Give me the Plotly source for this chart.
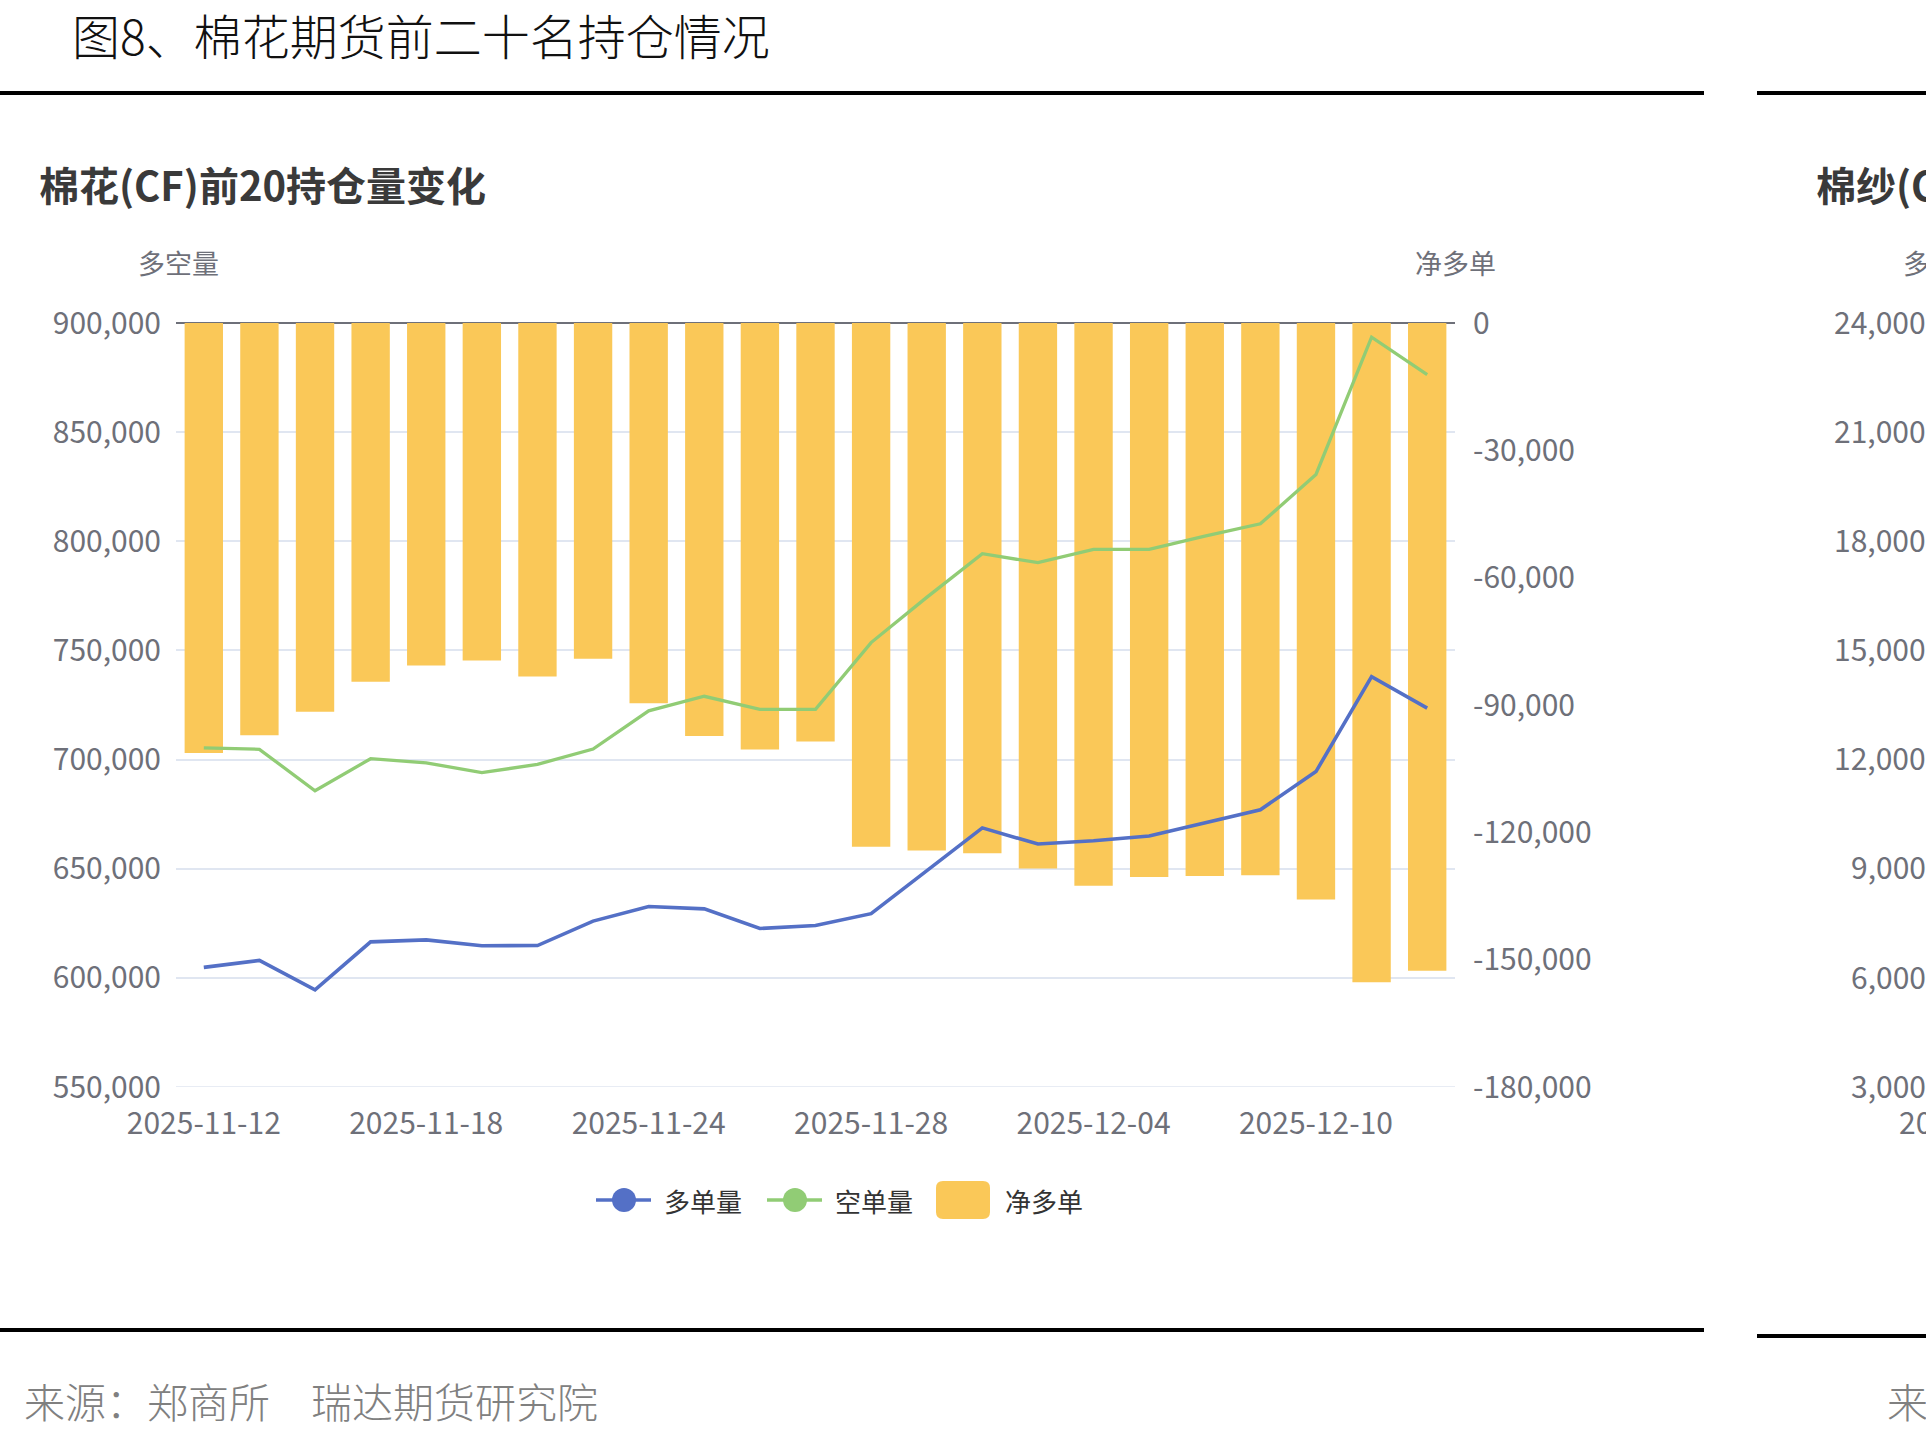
import plotly.graph_objects as go

# ---------------- data ----------------
dates = ["2025-11-12", "2025-11-13", "2025-11-14", "2025-11-17", "2025-11-18",
         "2025-11-19", "2025-11-20", "2025-11-21", "2025-11-24", "2025-11-25",
         "2025-11-26", "2025-11-27", "2025-11-28", "2025-12-01", "2025-12-02",
         "2025-12-03", "2025-12-04", "2025-12-05", "2025-12-08", "2025-12-09",
         "2025-12-10", "2025-12-11", "2025-12-12"]
long_pos = [604800, 608000, 594500, 616500, 617400, 614700, 614800, 626000, 632700,
            631600, 622600, 624000, 629400, 648800, 668700, 661300, 662800, 665000,
            671000, 677000, 694500, 738000, 723600]
short_pos = [705400, 704700, 685700, 700400, 698500, 694000, 697800, 704800, 722300,
             729000, 723000, 723000, 753600, 774300, 794300, 790200, 796300, 796300,
             802400, 808000, 830600, 893500, 876400]
net_long = [-101300, -97100, -91600, -84500, -80700, -79500, -83300, -79100, -89600,
            -97300, -100500, -98600, -123400, -124300, -124900, -128500, -132600,
            -130500, -130300, -130100, -135800, -155300, -152600]
x_tick_labels = ["2025-11-12", "2025-11-18", "2025-11-24", "2025-11-28",
                 "2025-12-04", "2025-12-10"]
left_ticks = [550000, 600000, 650000, 700000, 750000, 800000, 850000, 900000]
right_ticks = [-180000, -150000, -120000, -90000, -60000, -30000, 0]
cy_ticks = [24000, 21000, 18000, 15000, 12000, 9000, 6000, 3000]  # neighbouring (cut-off) chart

series_names = ["多单量", "空单量", "净多单"]
colors = ["#5470C6", "#91CC75", "#FAC858"]

fig_title = "图8、棉花期货前二十名持仓情况"
chart_title = "棉花(CF)前20持仓量变化"
chart2_title = "棉纱(CY)前20持仓量变化"
left_name = "多空量"
right_name = "净多单"
source_text = "来源：郑商所　瑞达期货研究院"

# ---------------- layout geometry (pixels) ----------------
W, H = 1926, 1436
L, R, T, B = 176, 1455, 323, 1087
PW, PH = R - L, B - T
FONT = "Noto Sans CJK SC"
AXIS_GREY = "#6E7079"


def px(x):
    return (x - L) / PW


def py(y):
    return (B - y) / PH


def fmt(v):
    return f"{v:,}"


fig = go.Figure()

fig.add_trace(go.Bar(
    x=dates, y=net_long, name=series_names[2], marker=dict(color=colors[2], line=dict(width=0)),
    yaxis="y", showlegend=False))
fig.add_trace(go.Scatter(
    x=dates, y=long_pos, name=series_names[0], mode="lines",
    line=dict(color=colors[0], width=3.6), yaxis="y2", showlegend=False))
fig.add_trace(go.Scatter(
    x=dates, y=short_pos, name=series_names[1], mode="lines",
    line=dict(color=colors[1], width=3.3), yaxis="y2", showlegend=False))

shapes = []
annotations = []

# horizontal black rules
for x0, x1, y, in [(0, 1704, 93), (1757, W + 5, 93), (0, 1704, 1330), (1757, W + 5, 1336)]:
    shapes.append(dict(type="line", xref="paper", yref="paper",
                       x0=px(x0), x1=px(x1), y0=py(y), y1=py(y),
                       line=dict(color="#000000", width=4)))

# bottom grid line of the left axis (plotly omits the one on the range edge)
shapes.append(dict(type="line", xref="paper", yref="y2", x0=0, x1=1,
                   y0=left_ticks[0], y1=left_ticks[0], layer="below",
                   line=dict(color="#E0E6F1", width=1.5)))

# titles and texts
annotations.append(dict(text=fig_title, xref="paper", yref="paper", x=px(70), y=py(34),
                        xanchor="left", yanchor="middle", showarrow=False,
                        font=dict(family=FONT, size=48, color="#111111", weight=300)))
annotations.append(dict(text=chart_title, xref="paper", yref="paper", x=px(37), y=py(184),
                        xanchor="left", yanchor="middle", showarrow=False,
                        font=dict(family=FONT, size=40, color="#3a3a3a", weight="bold")))
annotations.append(dict(text=chart2_title, xref="paper", yref="paper", x=px(1814), y=py(184),
                        xanchor="left", yanchor="middle", showarrow=False,
                        font=dict(family=FONT, size=40, color="#3a3a3a", weight="bold")))
annotations.append(dict(text=left_name, xref="paper", yref="paper", x=px(178), y=py(262),
                        xanchor="center", yanchor="middle", showarrow=False,
                        font=dict(family=FONT, size=27, color=AXIS_GREY)))
annotations.append(dict(text=right_name, xref="paper", yref="paper", x=px(1455), y=py(262),
                        xanchor="center", yanchor="middle", showarrow=False,
                        font=dict(family=FONT, size=27, color=AXIS_GREY)))
annotations.append(dict(text=left_name, xref="paper", yref="paper", x=px(1901), y=py(262),
                        xanchor="left", yanchor="middle", showarrow=False,
                        font=dict(family=FONT, size=27, color=AXIS_GREY)))
annotations.append(dict(text=source_text, xref="paper", yref="paper", x=px(22), y=py(1400),
                        xanchor="left", yanchor="middle", showarrow=False,
                        font=dict(family=FONT, size=41, color="#808080", weight=300)))
annotations.append(dict(text=source_text, xref="paper", yref="paper", x=px(1885), y=py(1400),
                        xanchor="left", yanchor="middle", showarrow=False,
                        font=dict(family=FONT, size=41, color="#808080", weight=300)))

# neighbouring chart's axis labels (cut off at the right edge, as in the source page)
for i, v in enumerate(cy_ticks):
    annotations.append(dict(text=fmt(v), xref="paper", yref="paper",
                            x=px(1928), y=1 - i / (len(cy_ticks) - 1) + 0.003,
                            xanchor="right", yanchor="middle", showarrow=False,
                            font=dict(family=FONT, size=30, color=AXIS_GREY)))
annotations.append(dict(text=x_tick_labels[0], xref="paper", yref="paper", x=px(1897), y=py(1121),
                        xanchor="left", yanchor="middle", showarrow=False,
                        font=dict(family=FONT, size=30, color=AXIS_GREY)))

# custom legend
legend_y = 1200
for (lx0, lx1, cx, tx), col, name in zip([(596, 651, 624, 662), (767, 822, 795, 833)],
                                         colors[:2], series_names[:2]):
    shapes.append(dict(type="line", xref="paper", yref="paper", x0=px(lx0), x1=px(lx1),
                       y0=py(legend_y), y1=py(legend_y), line=dict(color=col, width=3.5)))
    shapes.append(dict(type="circle", xref="paper", yref="paper",
                       x0=px(cx - 12), x1=px(cx + 12), y0=py(legend_y + 12), y1=py(legend_y - 12),
                       fillcolor=col, line=dict(width=0)))
    annotations.append(dict(text=name, xref="paper", yref="paper", x=px(tx), y=py(legend_y),
                            xanchor="left", yanchor="middle", showarrow=False,
                            font=dict(family=FONT, size=26, color="#333333")))


def rounded_rect(x0, y0, x1, y1, r):
    pts = [
        f"M{px(x0 + r)},{py(y0)}", f"L{px(x1 - r)},{py(y0)}",
        f"Q{px(x1)},{py(y0)} {px(x1)},{py(y0 + r)}", f"L{px(x1)},{py(y1 - r)}",
        f"Q{px(x1)},{py(y1)} {px(x1 - r)},{py(y1)}", f"L{px(x0 + r)},{py(y1)}",
        f"Q{px(x0)},{py(y1)} {px(x0)},{py(y1 - r)}", f"L{px(x0)},{py(y0 + r)}",
        f"Q{px(x0)},{py(y0)} {px(x0 + r)},{py(y0)}", "Z"]
    return " ".join(pts)


shapes.append(dict(type="path", xref="paper", yref="paper",
                   path=rounded_rect(936, legend_y - 19, 990, legend_y + 19, 7),
                   fillcolor=colors[2], line=dict(width=0)))
annotations.append(dict(text=series_names[2], xref="paper", yref="paper", x=px(1003), y=py(legend_y),
                        xanchor="left", yanchor="middle", showarrow=False,
                        font=dict(family=FONT, size=26, color="#333333")))

fig.update_layout(
    width=W, height=H,
    margin=dict(l=L, r=W - R, t=T, b=H - B, pad=0),
    paper_bgcolor="#ffffff", plot_bgcolor="#ffffff",
    font=dict(family=FONT, color=AXIS_GREY),
    bargap=0.31,
    showlegend=False,
    xaxis=dict(type="category", categoryorder="array", categoryarray=dates,
               tickmode="array", tickvals=x_tick_labels, ticktext=x_tick_labels,
               showgrid=False, zeroline=False, showline=False, ticks="",
               tickfont=dict(family=FONT, size=30, color=AXIS_GREY),
               ticklabelstandoff=16),
    yaxis=dict(side="right", range=[right_ticks[0], right_ticks[-1]],
               tickmode="array", tickvals=right_ticks, ticktext=[fmt(v) for v in right_ticks],
               showgrid=False, zeroline=True, zerolinecolor=AXIS_GREY, zerolinewidth=2,
               showline=False, ticks="",
               tickfont=dict(family=FONT, size=30, color=AXIS_GREY),
               ticklabelstandoff=17),
    yaxis2=dict(side="left", overlaying="y", range=[left_ticks[0], left_ticks[-1]],
                tickmode="array", tickvals=left_ticks, ticktext=[fmt(v) for v in left_ticks],
                showgrid=True, gridcolor="#E0E6F1", gridwidth=1.5,
                zeroline=False, showline=False, ticks="",
                tickfont=dict(family=FONT, size=30, color=AXIS_GREY),
                ticklabelstandoff=14),
    shapes=shapes,
    annotations=annotations,
)

fig.write_html("out.html", config={"displayModeBar": False})
